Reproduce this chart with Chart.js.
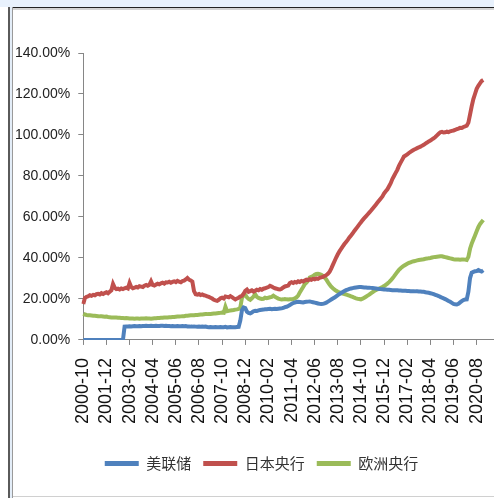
<!DOCTYPE html>
<html>
<head>
<meta charset="utf-8">
<script src="https://cdn.jsdelivr.net/npm/chart.js@4.4.1/dist/chart.umd.min.js"></script>
<style>
  html, body { margin: 0; padding: 0; background: #fff; }
  #page { position: relative; width: 494px; height: 498px; overflow: hidden; background: #fff; }
  #topband { position: absolute; left: 0; top: 0; width: 494px; height: 7px; background: #e8f1fc; }
  #topline { position: absolute; left: 8px; top: 7px; width: 486px; height: 1px; background: #222; }
  #topshade { position: absolute; left: 8px; top: 8px; width: 486px; height: 2px; background: #d4d4d4; }
  #leftdark { position: absolute; left: 8px; top: 7px; width: 2px; height: 491px; background: #5a5a5a; }
  #leftblue { position: absolute; left: 10px; top: 7px; width: 2px; height: 491px; background: #e3edf8; }
  #leftgray { position: absolute; left: 12px; top: 7px; width: 1px; height: 491px; background: #9a9a9a; }
  #bottomline { position: absolute; left: 13px; top: 496px; width: 481px; height: 1px; background: #d0d0d0; }
  #chart { position: absolute; left: -17px; top: 10px; }
</style>
</head>
<body>
<div id="page">
  <div id="topband"></div>
  <div id="topline"></div>
  <div id="topshade"></div>
  <div id="leftdark"></div>
  <div id="leftblue"></div>
  <div id="leftgray"></div>
  <div id="bottomline"></div>
  <canvas id="chart" width="533" height="498"></canvas>
</div>
<script>
// monthly categories 2000-10 .. 2021-09 (axis runs past the last data month)
const months = [];
for (let y = 2000, m = 10; y < 2021 || m <= 9; ) {
  months.push(y + '-' + String(m).padStart(2, '0'));
  m++;
  if (m > 12) { m = 1; y++; }
}

const seriesNames = ['美联储', '日本央行', '欧洲央行'];

// balance sheet / GDP, %, 2000-10 .. 2020-12
const fed = [
  0, 0, 0,
  0, 0, 0, 0, 0, 0, 0, 0, 0, 0, 0, 0,
  0, 0, 0, 0, 0, 0, 0, 0, 0, 0, 6.5, 6.6,
  6.6, 6.7, 6.6, 6.7, 6.8, 6.7, 6.7, 6.8, 6.7, 6.8, 6.8, 6.9,
  6.8, 6.8, 6.9, 6.8, 6.8, 6.9, 6.8, 6.8, 6.9, 6.9, 6.8, 6.9,
  6.8, 6.8, 6.7, 6.8, 6.7, 6.7, 6.8, 6.7, 6.7, 6.8, 6.7, 6.8,
  6.6, 6.6, 6.5, 6.5, 6.6, 6.5, 6.4, 6.5, 6.4, 6.5, 6.4, 6.5,
  6.3, 6.2, 6.3, 6.2, 6.2, 6.3, 6.2, 6.2, 6.3, 6.2, 6.2, 6.4,
  6.1, 6.2, 6.3, 6.2, 6.2, 6.2, 6.3, 6.4, 9.5, 14.5, 15.8, 15.5,
  13.8, 13.2, 13, 13.4, 14, 14.2, 14.1, 14.4, 14.6, 14.7, 14.8, 15,
  15, 15.1, 15.2, 15, 15.1, 15.2, 15.1, 15.2, 15.3, 15.4, 15.6, 16,
  16.2, 16.6, 17, 17.6, 18, 18.3, 18.5, 18.6, 18.5, 18.4, 18.3, 18.5,
  18.6, 18.7, 18.8, 18.6, 18.4, 18.2, 18, 17.8, 17.6, 17.5, 17.6, 17.8,
  18.2, 18.7, 19.2, 19.7, 20.2, 20.7, 21.3, 21.9, 22.4, 22.9, 23.4, 23.9,
  24.3, 24.6, 24.9, 25.1, 25.3, 25.5, 25.6, 25.7, 25.8, 25.8, 25.7, 25.6,
  25.6, 25.5, 25.5, 25.4, 25.3, 25.2, 25.1, 25, 24.9, 24.8, 24.7, 24.6,
  24.6, 24.5, 24.5, 24.4, 24.3, 24.3, 24.2, 24.2, 24.1, 24.1, 24, 24,
  24, 23.9, 23.9, 23.8, 23.8, 23.8, 23.7, 23.7, 23.6, 23.6, 23.5, 23.5,
  23.3, 23.1, 23, 22.8, 22.6, 22.3, 22, 21.7, 21.4, 21, 20.6, 20.3,
  19.9, 19.5, 19, 18.6, 18.1, 17.6, 17.4, 17.3, 17.6, 18.3, 18.9, 19.5,
  19.7, 19.8, 23.5, 30.2, 32.8, 33.2, 33.5, 33.6, 34.1, 33.7, 33.4, 34
];

const boj = [
  17.5, 20.5, 21,
  21.3, 21.8, 21.5, 22, 21.8, 22.3, 22.5, 22.2, 22.8, 22.4, 22.9, 23.3,
  22.8, 23.5, 24.2, 27.3, 25.5, 24.8, 25, 24.6, 25.1, 24.8, 25.2, 25.5,
  25.1, 27.8, 25.8, 25.2, 25.5, 25.9, 25.6, 26.2, 26, 25.8, 26.5, 26.8,
  26.4, 26.9, 28.6, 26.8, 26.5, 27, 27.4, 27.1, 27.6, 27.9, 27.5, 28.1,
  28, 28.4, 27.9, 28.3, 28.6, 28.2, 28.8, 28.4, 28.1, 28.7, 28.9, 29.5,
  30.2, 29.4, 29, 28.4, 23.8, 22.3, 22.1, 22.4, 21.9, 22.2, 21.8, 21.6,
  21.3, 21, 20.6, 20.2, 19.6, 19.3, 19.1, 19.6, 20.3, 20.6, 20.2, 21.2,
  21, 20.8, 21.4, 20.9, 20.3, 19.8, 20.2, 20.6, 21.2, 21.5, 22.5, 24,
  24.6, 23.5, 23.8, 24.2, 23.6, 24, 24.5, 24.2, 24.8, 24.5, 25, 25.2,
  25.5, 25.8, 26.4, 26.1, 25.6, 25.2, 25, 24.7, 24.6, 25, 25.6, 26.1,
  26.3, 26.5, 27.8, 28.2, 27.8, 28.3, 28, 28.6, 28.3, 28.8, 28.5, 29,
  29.4, 29.2, 29.6, 29.3, 29.8, 29.6, 30, 29.8, 30.3, 30.5, 30.8, 31.2,
  31.6, 32.3, 33.2, 34.8, 36.6, 38.4, 40.2, 41.8, 43.2, 44.4, 45.6, 46.8,
  47.8, 48.8, 50, 51, 52, 53.2, 54.2, 55.3, 56.4, 57.4, 58.5, 59.4,
  60.3, 61.2, 62.1, 63, 64, 65, 66, 67, 68, 69, 70, 71.5,
  72.5, 73.5, 75, 76.5, 78.5, 80, 81.5, 83, 85, 86.5, 88, 89.5,
  90, 90.5, 91.2, 91.8, 92.3, 92.8, 93.2, 93.6, 94, 94.3, 94.8, 95.2,
  95.8, 96.3, 96.9, 97.3, 97.9, 98.4, 99, 99.8, 100.6, 101.3, 101.5, 101.2,
  101.3, 101.6, 101.4, 101.8, 102, 102.2, 102.5, 102.8, 103.1, 103.5, 103.4, 103.9,
  104.2, 104.5, 106, 110, 114, 117.5, 120, 122.5, 124, 125.2, 126.3, 126.8
];

const ecb = [
  12.8, 12.4, 12.2,
  12.1, 12, 11.9, 11.8, 11.8, 11.7, 11.6, 11.5, 11.5, 11.4, 11.3, 11.4,
  11.2, 11.1, 11, 11, 10.9, 10.9, 10.8, 10.8, 10.7, 10.7, 10.6, 10.7,
  10.6, 10.5, 10.5, 10.5, 10.4, 10.5, 10.5, 10.4, 10.5, 10.5, 10.5, 10.6,
  10.5, 10.5, 10.4, 10.5, 10.6, 10.6, 10.7, 10.7, 10.8, 10.8, 10.9, 11,
  11, 11.1, 11.1, 11.2, 11.2, 11.3, 11.4, 11.4, 11.5, 11.6, 11.6, 11.8,
  11.8, 11.9, 12, 12, 12.1, 12.2, 12.2, 12.3, 12.4, 12.4, 12.5, 12.6,
  12.6, 12.7, 12.7, 12.8, 12.9, 12.9, 13, 13.1, 13.2, 13.4, 13.3, 16.2,
  14, 14.2, 14.4, 14.5, 14.6, 14.8, 14.9, 15.1, 15.8, 20.5, 21.8, 22,
  20.8, 20, 19.6, 20.3, 21.2, 22.3, 21, 20.5, 20.2, 20, 20.1, 20.6,
  20.4, 20.6, 20.8, 21, 21.6, 21, 20.6, 20.2, 19.9, 19.7, 19.8, 20,
  19.8, 19.7, 19.8, 19.9, 20, 20.3, 20.8, 21.6, 23.2, 24.5, 25.8, 27.2,
  28, 29, 30.4, 30.8, 31.2, 31.8, 32.2, 32.3, 32.1, 31.8, 31.3, 30.5,
  29.5, 28.2, 27, 26, 25.2, 24.6, 24, 23.5, 23.2, 22.9, 22.6, 22.4,
  22.2, 21.9, 21.6, 21.3, 21, 20.6, 20.3, 20.1, 20, 19.8, 20.1, 20.6,
  21.1, 21.6, 22.1, 22.7, 23.3, 23.8, 24.3, 24.7, 25, 25.4, 25.8, 26.3,
  26.9, 27.5, 28.2, 29, 30, 31, 32.1, 33.2, 34.2, 35, 35.6, 36.2,
  36.7, 37.2, 37.6, 37.9, 38.2, 38.4, 38.6, 38.8, 39, 39.1, 39.2, 39.4,
  39.6, 39.7, 39.9, 40, 40.2, 40.4, 40.5, 40.6, 40.7, 40.8, 40.8, 40.6,
  40.4, 40.2, 40, 39.8, 39.6, 39.4, 39.3, 39.2, 39.2, 39.1, 39.2, 39.3,
  39.2, 39, 40.5, 44.5, 47, 49, 51, 53, 55, 56.5, 57.5, 58.5
];

const colors = ['#4f81bd', '#c0504d', '#9bbb59'];
const labelEvery = 14;

const ctx = document.getElementById('chart').getContext('2d');
const chart = new Chart(ctx, {
  type: 'line',
  data: {
    labels: months,
    datasets: [fed, boj, ecb].map((d, i) => ({
      label: seriesNames[i],
      data: d,
      borderColor: colors[i],
      backgroundColor: colors[i],
      borderWidth: 4,
      pointRadius: 0,
      tension: 0,
      fill: false
    }))
  },
  options: {
    responsive: false,
    animation: false,
    layout: {
      padding: { top: 43, left: 24, right: 0, bottom: 27 }
    },
    scales: {
      x: {
        type: 'category',
        offset: false,
        afterBuildTicks: (axis) => {
          axis.ticks = axis.ticks.filter(t => t.value % labelEvery === 0);
        },
        afterFit: (axis) => {
          axis.height += 7;
          axis.paddingRight += 5;
        },
        grid: { drawOnChartArea: false, drawTicks: true, tickLength: 5, color: '#868686' },
        border: { display: true, color: '#868686', width: 1 },
        ticks: {
          autoSkip: false,
          minRotation: 90,
          maxRotation: 90,
          padding: 13,
          color: '#111',
          font: { family: "'Liberation Sans', Arial, sans-serif", size: 18 }
        }
      },
      y: {
        min: 0,
        max: 140,
        grid: { drawOnChartArea: false, drawTicks: true, tickLength: 5, color: '#868686' },
        border: { display: true, color: '#868686', width: 1 },
        ticks: {
          stepSize: 20,
          padding: 8,
          color: '#222',
          font: { family: "'Liberation Sans', Arial, sans-serif", size: 14 },
          callback: (v) => v.toFixed(2) + '%'
        }
      }
    },
    plugins: {
      legend: {
        position: 'bottom',
        labels: {
          boxWidth: 34,
          boxHeight: 5,
          padding: 12,
          color: '#333',
          font: { family: "'Noto Sans CJK SC', sans-serif", size: 15 },
          generateLabels: (c) => {
            const items = Chart.defaults.plugins.legend.labels.generateLabels(c);
            items.forEach(it => { it.lineWidth = 0; });
            return items;
          }
        }
      },
      tooltip: { enabled: false }
    }
  }
});
</script>
</body>
</html>
